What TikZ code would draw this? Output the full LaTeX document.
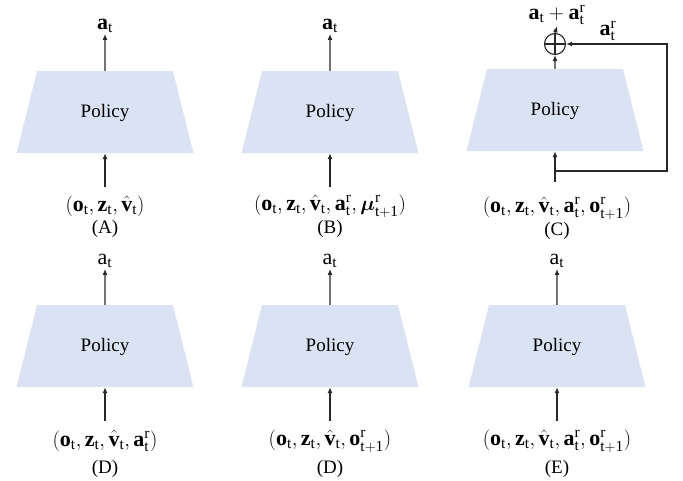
\documentclass[tikz,border=0pt]{standalone}
\usepackage{fontspec}
\setmainfont{Liberation Serif}
\usepackage{amsmath}
\usetikzlibrary{arrows.meta,shapes.geometric}

\definecolor{policyblue}{RGB}{218,227,243}
\definecolor{arrowgray}{RGB}{40,40,40}

\tikzset{
  policy/.style={trapezium, trapezium angle=76, fill=policyblue,
    text width=136pt, text height=46pt, text depth=36pt, align=center, inner sep=0pt,
    font=\fontsize{19}{22}\selectfont},
  lbl/.style={font=\fontsize{19}{22}\selectfont, inner sep=1pt},
  mlbl/.style={font=\fontsize{22}{25}\selectfont, inner sep=1pt},
  arr/.style={draw=arrowgray, line width=1.1pt, -{Latex[length=6pt,width=5pt]}},
  sumnode/.style={circle, draw=arrowgray, line width=1.1pt, minimum size=21pt, inner sep=0pt,
    path picture={\draw[line width=1.1pt]
      (path picture bounding box.north) -- (path picture bounding box.south)
      (path picture bounding box.west) -- (path picture bounding box.east);}},
}

\begin{document}
\begin{tikzpicture}[x=1pt,y=-1pt]
  \useasboundingbox (0,0) rectangle (683,480);
  % top row
  \node[policy] (pA) at (105,112) {Policy};
  \node[policy] (pB) at (330,112) {Policy};
  \node[policy] (pC) at (555,110) {Policy};
  \node[mlbl] (outA) at (105,26) {$\mathbf{a}_\mathrm{t}$};
  \node[mlbl] (outB) at (330,26) {$\mathbf{a}_\mathrm{t}$};
  \node[sumnode] (sumC) at (555,44) {};
  \node[mlbl] (outC) at (557,15) {$\mathbf{a}_\mathrm{t}+\mathbf{a}_\mathrm{t}^\mathrm{r}$};
  \node[mlbl] (fbC) at (608,31) {$\mathbf{a}_\mathrm{t}^\mathrm{r}$};
  \node[mlbl] (inA) at (105,206) {$(\mathbf{o}_\mathrm{t}, \mathbf{z}_\mathrm{t}, \hat{\mathbf{v}}_\mathrm{t})$};
  \node[mlbl] (inB) at (330,206) {$(\mathbf{o}_\mathrm{t}, \mathbf{z}_\mathrm{t}, \hat{\mathbf{v}}_\mathrm{t}, \mathbf{a}_\mathrm{t}^\mathrm{r}, \boldsymbol{\mu}_\mathrm{t+1}^\mathrm{r})$};
  \node[mlbl] (inC) at (557,208) {$(\mathbf{o}_\mathrm{t}, \mathbf{z}_\mathrm{t}, \hat{\mathbf{v}}_\mathrm{t}, \mathbf{a}_\mathrm{t}^\mathrm{r}, \mathbf{o}_\mathrm{t+1}^\mathrm{r})$};
  \node[lbl] (capA) at (105,229) {(A)};
  \node[lbl] (capB) at (330,229) {(B)};
  \node[lbl] (capC) at (557,231) {(C)};
  \coordinate (jC) at (555,171);
  \coordinate (cornerC) at (667,171);
  % bottom row
  \node[policy] (pD) at (105,346) {Policy};
  \node[policy] (pD2) at (330,346) {Policy};
  \node[policy] (pE) at (557,346) {Policy};
  \node[mlbl] (outD) at (105,261) {$\mathrm{a}_\mathrm{t}$};
  \node[mlbl] (outD2) at (330,261) {$\mathrm{a}_\mathrm{t}$};
  \node[mlbl] (outE) at (557,261) {$\mathrm{a}_\mathrm{t}$};
  \node[mlbl] (inD) at (105,441) {$(\mathbf{o}_\mathrm{t}, \mathbf{z}_\mathrm{t}, \hat{\mathbf{v}}_\mathrm{t}, \mathbf{a}_\mathrm{t}^\mathrm{r})$};
  \node[mlbl] (inD2) at (330,441) {$(\mathbf{o}_\mathrm{t}, \mathbf{z}_\mathrm{t}, \hat{\mathbf{v}}_\mathrm{t}, \mathbf{o}_\mathrm{t+1}^\mathrm{r})$};
  \node[mlbl] (inE) at (557,441) {$(\mathbf{o}_\mathrm{t}, \mathbf{z}_\mathrm{t}, \hat{\mathbf{v}}_\mathrm{t}, \mathbf{a}_\mathrm{t}^\mathrm{r}, \mathbf{o}_\mathrm{t+1}^\mathrm{r})$};
  \node[lbl] (capD) at (105,469) {(D)};
  \node[lbl] (capD2) at (330,469) {(D)};
  \node[lbl] (capE) at (557,469) {(E)};
  % arrows
  \draw[arr] (pA.north) -- (outA.south);
  \draw[arr] (pB.north) -- (outB.south);
  \draw[arr] (pC.north) -- (sumC.south);
  \draw[arr] (sumC.north) -- (outC.south);
  \draw[arr] ([yshift=-34pt]pA.south) -- (pA.south);
  \draw[arr] ([yshift=-34pt]pB.south) -- (pB.south);
  \draw[arr] ([yshift=-31pt]pC.south) -- (pC.south);
  \draw[arr] (jC) -- (cornerC) |- (sumC.east);
  \draw[arr] (pD.north) -- (outD.south);
  \draw[arr] (pD2.north) -- (outD2.south);
  \draw[arr] (pE.north) -- (outE.south);
  \draw[arr] ([yshift=-34pt]pD.south) -- (pD.south);
  \draw[arr] ([yshift=-34pt]pD2.south) -- (pD2.south);
  \draw[arr] ([yshift=-34pt]pE.south) -- (pE.south);
\end{tikzpicture}
\end{document}
